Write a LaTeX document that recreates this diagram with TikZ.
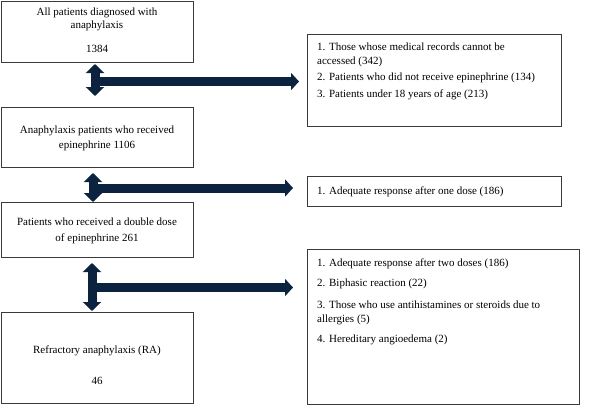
\documentclass[tikz,border=0pt]{standalone}
\usepackage{fontspec}
\setmainfont{Liberation Serif}
\usetikzlibrary{arrows.meta}
\definecolor{navy}{HTML}{0C2340}
\definecolor{edge}{HTML}{3A3A3A}
\begin{document}
\begin{tikzpicture}[x=1pt,y=-1pt,
  box/.style={draw=edge, line width=0.9pt, rectangle, inner sep=0pt, anchor=north west},
  ctr/.style={anchor=base, inner sep=0pt, font=\fontsize{11}{13}\selectfont},
  lft/.style={anchor=base west, inner sep=0pt, font=\fontsize{11}{13}\selectfont},
  vbar/.style={navy, line width=9pt, {Triangle[width=18pt,length=9pt]}-{Triangle[width=18pt,length=9pt]}},
  hbar/.style={navy, line width=9pt, -{Triangle[width=17pt,length=8pt]}}]
\useasboundingbox (0,0) rectangle (590,413);
% left boxes
\node[box, minimum width=192pt, minimum height=61pt] (b1) at (1,0.5) {};
\node[box, minimum width=192pt, minimum height=60pt] (b2) at (1,107) {};
\node[box, minimum width=192pt, minimum height=55pt] (b3) at (1,202) {};
\node[box, minimum width=192pt, minimum height=91pt] (b4) at (1,312) {};
% right boxes
\node[box, minimum width=254pt, minimum height=92pt] (r1) at (307,34) {};
\node[box, minimum width=254pt, minimum height=30pt] (r2) at (307,176) {};
\node[box, minimum width=272pt, minimum height=155pt] (r3) at (307,249) {};
% left texts
\node[ctr] (t1a) at (97,15.5) {All patients diagnosed with};
\node[ctr] (t1b) at (97,28.5) {anaphylaxis};
\node[ctr] (t1c) at (97,52.5) {1384};
\node[ctr] (t2a) at (97,133.5) {Anaphylaxis patients who received};
\node[ctr] (t2b) at (97,148.5) {epinephrine 1106};
\node[ctr] (t3a) at (97,225.5) {Patients who received a double dose};
\node[ctr] (t3b) at (97,241.5) {of epinephrine 261};
\node[ctr] (t4a) at (97,353.5) {Refractory anaphylaxis (RA)};
\node[ctr] (t4b) at (97,384.5) {46};
% right texts
\node[lft] (s1a) at (317,50.5) {1. Those whose medical records cannot be};
\node[lft] (s1b) at (317,64.5) {accessed (342)};
\node[lft] (s1c) at (317,80.5) {2. Patients who did not receive epinephrine (134)};
\node[lft] (s1d) at (317,97.5) {3. Patients under 18 years of age (213)};
\node[lft] (s2a) at (317,194.5) {1. Adequate response after one dose (186)};
\node[lft] (s3a) at (317,266.5) {1. Adequate response after two doses (186)};
\node[lft] (s3b) at (317,286.5) {2. Biphasic reaction (22)};
\node[lft] (s3c) at (317,308.5) {3. Those who use antihistamines or steroids due to};
\node[lft] (s3d) at (317,322.5) {allergies (5)};
\node[lft] (s3e) at (317,342.5) {4. Hereditary angioedema (2)};
% arrows
\coordinate (v1t) at (95,64);   \coordinate (v1b) at (95,96);
\coordinate (h1s) at (95,81.5); \coordinate (h1e) at (299,81.5);
\coordinate (v2t) at (93,173);  \coordinate (v2b) at (93,202);
\coordinate (h2s) at (93,188);  \coordinate (h2e) at (293,188);
\coordinate (v3t) at (92,263);  \coordinate (v3b) at (92,311);
\coordinate (h3s) at (92,287.5);\coordinate (h3e) at (293,287.5);
\draw[hbar] (h1s) -- (h1e);
\draw[vbar] (v1t) -- (v1b);
\draw[hbar] (h2s) -- (h2e);
\draw[vbar] (v2t) -- (v2b);
\draw[hbar] (h3s) -- (h3e);
\draw[vbar] (v3t) -- (v3b);
\end{tikzpicture}
\end{document}
